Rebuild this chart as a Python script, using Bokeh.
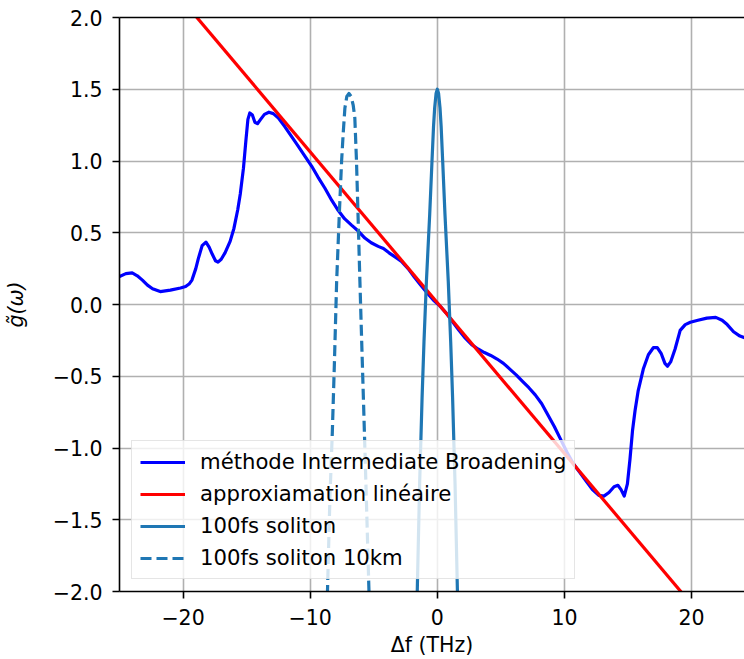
from bokeh.plotting import figure
from bokeh.models import Range1d, FixedTicker, LinearAxis, Legend, LegendItem
from bokeh.embed import file_html
from bokeh.resources import INLINE

# --- data ---
ib_x = [-25.0, -24.5, -24.0, -23.6, -23.2, -22.8, -22.4, -21.8, -21.0, -20.2, -19.8, -19.5, -19.3,
        -19.0, -18.8, -18.5, -18.2, -17.95, -17.7, -17.45, -17.25, -17.0, -16.7, -16.3, -16.0,
        -15.7, -15.5, -15.25, -15.05, -14.9, -14.75, -14.55, -14.35, -14.15, -13.9, -13.6, -13.25,
        -12.9, -12.5, -12.0, -11.5, -11.0, -10.5, -9.88, -9.4, -8.84, -8.3, -7.79, -7.3, -6.75,
        -6.2, -5.7, -5.2, -4.65, -4.24, -3.8, -3.3, -2.82, -2.3, -1.8, -1.3, -0.8, -0.3, 0.2, 0.7,
        1.2, 1.7, 2.2, 2.7, 3.2, 3.7, 4.2, 4.7, 5.2, 5.7, 6.2, 6.7, 7.2, 7.7, 8.2, 8.7, 9.2, 9.7,
        10.2, 10.7, 11.2, 11.7, 12.2, 12.7, 13.1, 13.5, 13.9, 14.2, 14.45, 14.7, 14.95, 15.15,
        15.35, 15.55, 15.8, 16.2, 16.6, 17.0, 17.3, 17.6, 17.9, 18.1, 18.35, 18.7, 19.1, 19.5,
        19.9, 20.5, 21.2, 21.9, 22.4, 22.8, 23.3, 23.8, 24.3]
ib_y = [0.195, 0.215, 0.22, 0.20, 0.17, 0.135, 0.11, 0.09, 0.10, 0.115, 0.125, 0.145, 0.17,
        0.25, 0.32, 0.41, 0.435, 0.40, 0.35, 0.305, 0.295, 0.315, 0.36, 0.44, 0.53,
        0.66, 0.77, 0.95, 1.15, 1.29, 1.335, 1.32, 1.27, 1.26, 1.29, 1.325, 1.34,
        1.33, 1.30, 1.24, 1.175, 1.11, 1.045, 0.963, 0.89, 0.81, 0.725, 0.655, 0.598, 0.553,
        0.51, 0.463, 0.43, 0.405, 0.39, 0.36, 0.33, 0.30, 0.25, 0.19, 0.135, 0.08, 0.03, -0.01, -0.06,
        -0.12, -0.18, -0.235, -0.28, -0.31, -0.335, -0.355, -0.38, -0.41, -0.45, -0.49, -0.535, -0.58,
        -0.63, -0.69, -0.77, -0.85, -0.94,
        -1.03, -1.11, -1.17, -1.23, -1.29, -1.33, -1.335, -1.31, -1.27, -1.26, -1.29, -1.335, -1.25, -1.08,
        -0.88, -0.74, -0.60, -0.45, -0.35, -0.30, -0.30, -0.34, -0.41, -0.43, -0.40, -0.31, -0.18, -0.14,
        -0.124, -0.11, -0.095, -0.09, -0.11, -0.14, -0.19, -0.22, -0.235]

lin_x = [-25.0, 25.0]
lin_y = [2.64, -2.615]

sol_x = [-1.8, -1.57, -1.39, -1.2, -1.05, -0.86, -0.6, -0.42, -0.3, -0.21, -0.1, 0.0,
         0.1, 0.21, 0.3, 0.42, 0.6, 0.86, 1.05, 1.2, 1.39, 1.57, 1.8]
sol_y = [-2.9, -1.96, -1.24, -0.65, -0.26, 0.16, 0.63, 1.0, 1.24, 1.37, 1.47, 1.5,
         1.47, 1.37, 1.24, 1.0, 0.63, 0.16, -0.26, -0.65, -1.24, -1.96, -2.9]

sol10_x = [-8.85, -8.63, -8.45, -8.26, -8.1, -7.92, -7.71, -7.53, -7.4, -7.27, -7.12, -6.95,
           -6.78, -6.62, -6.49, -6.36, -6.24, -6.09, -5.95, -5.8, -5.62, -5.39, -5.2]
sol10_y = [-2.7, -1.96, -1.35, -0.89, -0.42, 0.16, 0.63, 1.0, 1.2, 1.37, 1.45, 1.47,
           1.45, 1.39, 1.3, 1.0, 0.63, 0.16, -0.26, -0.7, -1.24, -1.96, -2.5]

x_ticks = [-20, -10, 0, 10, 20]
x_tick_labels = ["\u221220", "\u221210", "0", "10", "20"]
y_ticks = [-2.0, -1.5, -1.0, -0.5, 0.0, 0.5, 1.0, 1.5, 2.0]
y_tick_labels = ["\u22122.0", "\u22121.5", "\u22121.0", "\u22120.5", "0.0", "0.5", "1.0", "1.5", "2.0"]

labels = ["méthode Intermediate Broadening", "approxiamation linéaire",
          "100fs soliton", "100fs soliton 10km"]

FONT = "DejaVu Sans"
FS = "20.5px"

p = figure(width=744, height=659, output_backend="svg", toolbar_location=None,
           x_range=Range1d(-25, 24.16), y_range=Range1d(-2, 2),
           min_border_left=117, min_border_right=0, min_border_top=17, min_border_bottom=0,
           background_fill_color="white", border_fill_color="white")
p.outline_line_color = None

LW = 3.2
r_ib = p.line(ib_x, ib_y, line_color="#0000ff", line_width=LW, line_join="round")
r_lin = p.line(lin_x, lin_y, line_color="#ff0000", line_width=LW)
r_sol = p.line(sol_x, sol_y, line_color="#1f77b4", line_width=LW, line_join="round")
r_sol10 = p.line(sol10_x, sol10_y, line_color="#1f77b4", line_width=LW, line_dash="11 5",
                 line_join="round")

# axes
p.xaxis.ticker = FixedTicker(ticks=x_ticks)
p.yaxis.ticker = FixedTicker(ticks=y_ticks)
p.xaxis.major_label_overrides = {t: s for t, s in zip(x_ticks, x_tick_labels)}
p.yaxis.major_label_overrides = {t: s for t, s in zip(y_ticks, y_tick_labels)}
for ax in (p.xaxis[0], p.yaxis[0]):
    ax.axis_line_width = 1.6
    ax.axis_line_color = "black"
    ax.major_tick_line_width = 1.6
    ax.major_tick_line_color = "black"
    ax.major_tick_out = 7
    ax.major_tick_in = 0
    ax.minor_tick_line_color = None
    ax.major_label_text_font = FONT
    ax.major_label_text_font_size = FS
    ax.major_label_text_color = "black"
    ax.axis_label_text_font = FONT
    ax.axis_label_text_font_size = FS
    ax.axis_label_text_color = "black"

p.xaxis.axis_label = "\u0394f (THz)"
p.xaxis.axis_label_text_font_style = "normal"
p.xaxis.major_label_standoff = 10
p.xaxis.axis_label_standoff = 5
p.yaxis.axis_label = "g\u0303(\u03c9)"
p.yaxis.axis_label_text_font_style = "italic"
p.yaxis.major_label_standoff = 10
p.yaxis.axis_label_standoff = 22

top = LinearAxis(ticker=FixedTicker(ticks=[]), axis_line_width=1.6, axis_line_color="black",
                 major_tick_line_color=None, minor_tick_line_color=None)
p.add_layout(top, "above")

p.xgrid.grid_line_color = "#b0b0b0"
p.ygrid.grid_line_color = "#b0b0b0"
p.xgrid.grid_line_width = 1.6
p.ygrid.grid_line_width = 1.6

legend = Legend(items=[LegendItem(label=labels[0], renderers=[r_ib]),
                       LegendItem(label=labels[1], renderers=[r_lin]),
                       LegendItem(label=labels[2], renderers=[r_sol]),
                       LegendItem(label=labels[3], renderers=[r_sol10])],
                location="bottom_left", margin=12, padding=8, spacing=7,
                glyph_width=45, glyph_height=24, label_height=24, label_standoff=15,
                label_text_font=FONT, label_text_font_size="21.2px", label_text_color="black",
                background_fill_color="white", background_fill_alpha=0.8,
                border_line_color="#cccccc", border_line_width=1.5)
p.add_layout(legend)

open("out.html", "w").write(file_html(p, INLINE))
